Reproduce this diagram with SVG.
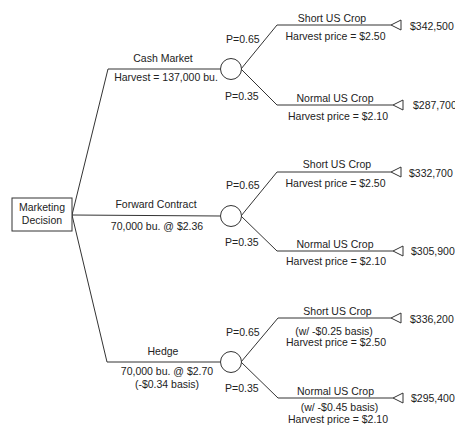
<svg xmlns="http://www.w3.org/2000/svg" width="455" height="426" viewBox="0 0 455 426">
<style>
text{font-family:"Liberation Sans",Arial,sans-serif;font-size:10.5px;fill:#222}
.m{text-anchor:middle}
.ln{fill:none;stroke:#333;stroke-width:1}
.ch{fill:#fff;stroke:#333;stroke-width:1}
.tri{fill:#fff;stroke:#333;stroke-width:1}
</style>
<rect width="455" height="426" fill="#fff"/>
<g id="connectors">
<polyline class="ln" points="72,215 108,69 220,69"/>
<polyline class="ln" points="72,215 220,216"/>
<polyline class="ln" points="72,215 107,362 220,362"/>
<polyline class="ln" points="241,69 277,25 391,25"/>
<polyline class="ln" points="241,69 277,105 393,105"/>
<polyline class="ln" points="241,216 277,172 391,172"/>
<polyline class="ln" points="241,216 277,251 393,251"/>
<polyline class="ln" points="241,362 278,318 391,318"/>
<polyline class="ln" points="241,362 278,398 393,398"/>
</g>
<g id="decision">
<rect x="12" y="198" width="60" height="33" fill="#fff" stroke="#333"/>
<text class="m" x="42" y="211">Marketing</text>
<text class="m" x="42" y="224">Decision</text>
</g>
<g id="cash-label">
<text class="m" x="163" y="62">Cash Market</text>
<text class="m" x="166" y="81">Harvest = 137,000 bu.</text>
</g>
<g id="forward-label">
<text class="m" x="156" y="208">Forward Contract</text>
<text class="m" x="157" y="230">70,000 bu. @ $2.36</text>
</g>
<g id="hedge-label">
<text class="m" x="163" y="355">Hedge</text>
<text class="m" x="167" y="375">70,000 bu. @ $2.70</text>
<text class="m" x="167" y="388">(-$0.34 basis)</text>
</g>
<g id="chance1">
<circle class="ch" cx="231" cy="69" r="10.5"/>
<text x="226" y="43">P=0.65</text>
<text x="225" y="100">P=0.35</text>
</g>
<g id="chance2">
<circle class="ch" cx="231" cy="216" r="10.5"/>
<text x="226" y="189">P=0.65</text>
<text x="225" y="246">P=0.35</text>
</g>
<g id="chance3">
<circle class="ch" cx="231" cy="362" r="10.5"/>
<text x="226" y="336">P=0.65</text>
<text x="225" y="392">P=0.35</text>
</g>
<g id="end1a">
<text class="m" x="332" y="22">Short US Crop</text>
<text class="m" x="335.5" y="40">Harvest price = $2.50</text>
<polygon class="tri" points="391,25 401,20 401,30"/>
<text x="410" y="30">$342,500</text>
</g>
<g id="end1b">
<text class="m" x="335" y="102">Normal US Crop</text>
<text class="m" x="338" y="120">Harvest price = $2.10</text>
<polygon class="tri" points="393,105 403,100 403,110"/>
<text x="413" y="109">$287,700</text>
</g>
<g id="end2a">
<text class="m" x="337" y="168">Short US Crop</text>
<text class="m" x="335.5" y="187">Harvest price = $2.50</text>
<polygon class="tri" points="391,172 401,167 401,177"/>
<text x="409" y="177">$332,700</text>
</g>
<g id="end2b">
<text class="m" x="335" y="248">Normal US Crop</text>
<text class="m" x="336" y="265">Harvest price = $2.10</text>
<polygon class="tri" points="393,251 403,246 403,256"/>
<text x="411" y="255">$305,900</text>
</g>
<g id="end3a">
<text class="m" x="337.5" y="315">Short US Crop</text>
<text class="m" x="334" y="335">(w/ -$0.25 basis)</text>
<text class="m" x="336" y="346">Harvest price = $2.50</text>
<polygon class="tri" points="391,318 401,313 401,323"/>
<text x="410" y="323">$336,200</text>
</g>
<g id="end3b">
<text class="m" x="335.5" y="395">Normal US Crop</text>
<text class="m" x="339.5" y="411">(w/ -$0.45 basis)</text>
<text class="m" x="338" y="423">Harvest price = $2.10</text>
<polygon class="tri" points="393,398 403,393 403,403"/>
<text x="411" y="402">$295,400</text>
</g>
</svg>
